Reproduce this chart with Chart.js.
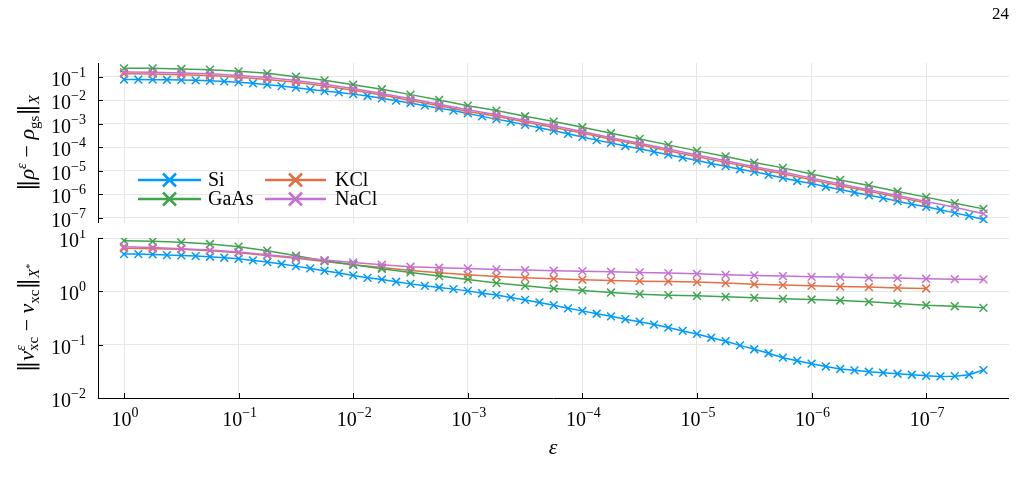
<!DOCTYPE html>
<html lang="en">
<head>
<meta charset="UTF-8">
<title>Error versus epsilon</title>
<script src="https://cdn.jsdelivr.net/npm/chart.js@4"></script>
<style>
  body { margin: 0; background: #fff; }
  #wrap { position: relative; width: 1027px; height: 486px; overflow: hidden;
          font-family: "Liberation Serif", "DejaVu Serif", serif; color: #000; }
  #wrap canvas { position: absolute; left: 0; }
  #rhoCanvas { top: 0; }
  #vxcCanvas { top: 230px; }
  .page { position: absolute; left: 992px; top: 4px; font-size: 17px; }
  .ylab { position: absolute; white-space: nowrap; font-size: 22px; line-height: 1;
          transform: translate(-50%, -50%) rotate(-90deg); }
  .ylab sup, .ylab sub { font-size: 0.68em; line-height: 0; }
  .ylab sup { vertical-align: 0.55em; }
  .ylab sub { vertical-align: -0.3em; }
  .nb { font-family: "DejaVu Serif", serif; font-size: 1.05em; }
  .ss { display: inline-block; font-size: 0.68em; line-height: 0.9; vertical-align: -0.25em; }
  .ss span { display: block; }
  .xlab { position: absolute; left: 553px; top: 447px; font-size: 22px; font-style: italic;
          transform: translate(-50%, -50%); }
</style>
</head>
<body>
<div id="wrap">
  <canvas id="rhoCanvas" width="1027" height="240"></canvas>
  <canvas id="vxcCanvas" width="1027" height="256"></canvas>
  <div class="page">24</div>
  <div class="ylab" style="left:27px; top:143px;"><span class="nb">‖</span><i>ρ</i><sup><i>ε</i></sup> − <i>ρ</i><sub>gs</sub><span class="nb">‖</span><sub><i>X</i></sub></div>
  <div class="ylab" style="left:27px; top:318px;"><span class="nb">‖</span><i>v</i><span class="ss"><span><i>ε</i></span><span>xc</span></span> − <i>v</i><sub>xc</sub><span class="nb">‖</span><sub><i>X</i><sup>*</sup></sub></div>
  <div class="xlab">ε</div>
</div>

<script>
// epsilon grids (1/8 decade for Si, 1/4 decade for the others)
const epsFine = [
  1e0, 7.499e-1, 5.623e-1, 4.217e-1, 3.162e-1, 2.371e-1, 1.778e-1, 1.334e-1,
  1e-1, 7.499e-2, 5.623e-2, 4.217e-2, 3.162e-2, 2.371e-2, 1.778e-2, 1.334e-2,
  1e-2, 7.499e-3, 5.623e-3, 4.217e-3, 3.162e-3, 2.371e-3, 1.778e-3, 1.334e-3,
  1e-3, 7.499e-4, 5.623e-4, 4.217e-4, 3.162e-4, 2.371e-4, 1.778e-4, 1.334e-4,
  1e-4, 7.499e-5, 5.623e-5, 4.217e-5, 3.162e-5, 2.371e-5, 1.778e-5, 1.334e-5,
  1e-5, 7.499e-6, 5.623e-6, 4.217e-6, 3.162e-6, 2.371e-6, 1.778e-6, 1.334e-6,
  1e-6, 7.499e-7, 5.623e-7, 4.217e-7, 3.162e-7, 2.371e-7, 1.778e-7, 1.334e-7,
  1e-7, 7.499e-8, 5.623e-8, 4.217e-8, 3.162e-8
];
const epsCoarse = [
  1e0, 5.623e-1, 3.162e-1, 1.778e-1,
  1e-1, 5.623e-2, 3.162e-2, 1.778e-2,
  1e-2, 5.623e-3, 3.162e-3, 1.778e-3,
  1e-3, 5.623e-4, 3.162e-4, 1.778e-4,
  1e-4, 5.623e-5, 3.162e-5, 1.778e-5,
  1e-5, 5.623e-6, 3.162e-6, 1.778e-6,
  1e-6, 5.623e-7, 3.162e-7, 1.778e-7,
  1e-7, 5.623e-8, 3.162e-8
];

// ||rho^eps - rho_gs||
const siRho = [
  7.8e-2, 7.8e-2, 7.7e-2, 7.6e-2, 7.4e-2, 7.2e-2, 6.9e-2, 6.5e-2,
  6.0e-2, 5.4e-2, 4.7e-2, 4.1e-2, 3.5e-2, 2.95e-2, 2.5e-2, 2.2e-2,
  1.86e-2, 1.55e-2, 1.23e-2, 9.8e-3, 7.8e-3, 6.0e-3, 4.7e-3, 3.7e-3,
  2.8e-3, 2.1e-3, 1.6e-3, 1.23e-3, 9.1e-4, 6.8e-4, 5.1e-4, 3.8e-4,
  2.8e-4, 2.04e-4, 1.55e-4, 1.15e-4, 8.7e-5, 6.5e-5, 4.9e-5, 3.7e-5,
  2.75e-5, 2.04e-5, 1.58e-5, 1.17e-5, 9.1e-6, 6.8e-6, 5.0e-6, 3.7e-6,
  2.9e-6, 2.1e-6, 1.62e-6, 1.2e-6, 9.1e-7, 6.9e-7, 5.1e-7, 3.8e-7,
  2.95e-7, 2.2e-7, 1.62e-7, 1.2e-7, 8.5e-8
];
const kclRho = [
  1.38e-1, 1.35e-1, 1.26e-1, 1.15e-1, 9.8e-2, 7.9e-2, 5.9e-2, 4.1e-2,
  2.7e-2, 1.7e-2, 1.0e-2, 5.9e-3, 3.4e-3, 2.1e-3, 1.2e-3, 7.1e-4,
  4.1e-4, 2.24e-4, 1.29e-4, 7.2e-5, 4.0e-5, 2.3e-5, 1.29e-5, 7.6e-6,
  4.2e-6, 2.34e-6, 1.35e-6, 7.6e-7, 4.3e-7
];
const gaasRho = [
  2.34e-1, 2.34e-1, 2.19e-1, 2.05e-1, 1.74e-1, 1.43e-1, 1.03e-1, 7.2e-2,
  4.7e-2, 2.99e-2, 1.77e-2, 1.05e-2, 6.0e-3, 3.7e-3, 2.12e-3, 1.26e-3,
  7.2e-4, 4.0e-4, 2.3e-4, 1.28e-4, 7.1e-5, 4.1e-5, 2.26e-5, 1.34e-5,
  7.4e-6, 4.1e-6, 2.4e-6, 1.32e-6, 7.6e-7, 4.2e-7, 2.4e-7
];
const naclRho = [
  1.62e-1, 1.58e-1, 1.48e-1, 1.38e-1, 1.17e-1, 9.5e-2, 7.1e-2, 4.9e-2,
  3.2e-2, 2.0e-2, 1.17e-2, 6.9e-3, 4.0e-3, 2.45e-3, 1.41e-3, 8.3e-4,
  4.8e-4, 2.6e-4, 1.51e-4, 8.5e-5, 4.7e-5, 2.7e-5, 1.51e-5, 8.9e-6,
  4.9e-6, 2.75e-6, 1.58e-6, 8.9e-7, 5.0e-7, 2.8e-7, 1.5e-7
];

// ||v_xc^eps - v_xc||
const siVxc = [
  5.0, 5.0, 4.93, 4.79, 4.72, 4.58, 4.45, 4.27,
  4.09, 3.80, 3.54, 3.25, 2.97, 2.69, 2.43, 2.20,
  1.99, 1.79, 1.67, 1.51, 1.38, 1.27, 1.18, 1.10,
  1.02, 0.92, 0.85, 0.77, 0.69, 0.62, 0.55, 0.48,
  0.43, 0.38, 0.34, 0.30, 0.27, 0.238, 0.209, 0.181,
  0.159, 0.135, 0.116, 0.097, 0.082, 0.069, 0.057, 0.050,
  0.044, 0.039, 0.035, 0.033, 0.031, 0.0297, 0.0285, 0.0273,
  0.0261, 0.0254, 0.0257, 0.0273, 0.0334
];
const kclVxc = [
  6.4, 6.3, 6.12, 5.78, 5.30, 4.72, 4.15, 3.64,
  3.15, 2.81, 2.46, 2.23, 2.04, 1.90, 1.79, 1.72,
  1.65, 1.60, 1.55, 1.53, 1.49, 1.43, 1.36, 1.31,
  1.27, 1.23, 1.20, 1.16, 1.13
];
const gaasVxc = [
  8.9, 8.65, 8.28, 7.71, 6.87, 5.78, 4.66, 3.75,
  3.15, 2.65, 2.26, 1.93, 1.67, 1.43, 1.27, 1.13,
  1.04, 0.95, 0.885, 0.847, 0.822, 0.788, 0.755, 0.723,
  0.702, 0.673, 0.635, 0.590, 0.549, 0.526, 0.49
];
const naclVxc = [
  6.87, 6.67, 6.30, 5.94, 5.45, 4.86, 4.33, 3.86,
  3.48, 3.15, 2.89, 2.77, 2.69, 2.57, 2.50, 2.43,
  2.39, 2.33, 2.26, 2.20, 2.13, 2.04, 1.99, 1.93,
  1.87, 1.85, 1.79, 1.77, 1.72, 1.69, 1.67
];

// tick values and their exponent labels
const epsTicks = [1e0, 1e-1, 1e-2, 1e-3, 1e-4, 1e-5, 1e-6, 1e-7];
const epsTickExp = ['0', '−1', '−2', '−3', '−4', '−5', '−6', '−7'];
const rhoTicks = [1e-1, 1e-2, 1e-3, 1e-4, 1e-5, 1e-6, 1e-7];
const rhoTickExp = ['−1', '−2', '−3', '−4', '−5', '−6', '−7'];
const vxcTicks = [1e1, 1e0, 1e-1, 1e-2];
const vxcTickExp = ['1', '0', '−1', '−2'];

const names = ['Si', 'KCl', 'GaAs', 'NaCl'];
const colors = ['#009AFA', '#E36F47', '#3EA44E', '#C371D2'];

const FONT = '"Liberation Serif", "DejaVu Serif", serif';

function pts(xs, ys) {
  return ys.map((y, i) => ({ x: xs[i], y: y }));
}

function series(data) {
  return data.map((d, i) => ({
    label: names[i],
    data: d,
    borderColor: colors[i],
    backgroundColor: colors[i],
    borderWidth: 1.5,
    pointStyle: 'crossRot',
    pointRadius: 5.5,
    pointBorderWidth: 1.5,
    pointBorderColor: colors[i],
    tension: 0,
    fill: false,
    order: 4 - i
  }));
}

// "10" with a raised exponent
function drawPow(ctx, x, y, exp, align) {
  ctx.font = '20px ' + FONT;
  const wb = ctx.measureText('10').width;
  ctx.font = '14px ' + FONT;
  const we = ctx.measureText(exp).width;
  let x0 = align === 'right' ? x - wb - we : x - (wb + we) / 2;
  ctx.textAlign = 'left';
  ctx.textBaseline = 'alphabetic';
  ctx.font = '20px ' + FONT;
  ctx.fillText('10', x0, y);
  ctx.font = '14px ' + FONT;
  ctx.fillText(exp, x0 + wb, y - 9);
}

const deco = {
  id: 'deco',
  afterDraw(chart, args, opts) {
    const ctx = chart.ctx, a = chart.chartArea;
    const xs = chart.scales.x, ys = chart.scales.y;
    ctx.save();
    ctx.strokeStyle = '#000';
    ctx.fillStyle = '#000';
    ctx.lineWidth = 1;
    ctx.beginPath();
    ctx.moveTo(a.left + 0.5, a.top);
    ctx.lineTo(a.left + 0.5, a.bottom);
    opts.yTicks.forEach(v => {
      const py = Math.round(ys.getPixelForValue(v)) + 0.5;
      ctx.moveTo(a.left, py);
      ctx.lineTo(a.left + 5, py);
    });
    if (opts.xAxis) {
      ctx.moveTo(a.left, a.bottom + 0.5);
      ctx.lineTo(a.right, a.bottom + 0.5);
      epsTicks.forEach(v => {
        const px = Math.round(xs.getPixelForValue(v)) + 0.5;
        ctx.moveTo(px, a.bottom);
        ctx.lineTo(px, a.bottom - 5);
      });
    }
    ctx.stroke();
    opts.yTicks.forEach((v, i) => {
      drawPow(ctx, a.left - 12, ys.getPixelForValue(v) + 9, opts.yExp[i], 'right');
    });
    if (opts.xAxis) {
      epsTicks.forEach((v, i) => {
        drawPow(ctx, xs.getPixelForValue(v) + 1, a.bottom + 28, epsTickExp[i], 'center');
      });
    }
    if (opts.legend) {
      const items = [
        { i: 0, x0: 138, x1: 201, y: 180, tx: 208 },
        { i: 1, x0: 265, x1: 326, y: 180, tx: 335 },
        { i: 2, x0: 138, x1: 201, y: 199, tx: 208 },
        { i: 3, x0: 265, x1: 326, y: 199, tx: 335 }
      ];
      ctx.font = '20px ' + FONT;
      ctx.textBaseline = 'middle';
      ctx.textAlign = 'left';
      items.forEach(it => {
        ctx.strokeStyle = colors[it.i];
        ctx.lineWidth = 2.5;
        ctx.beginPath();
        ctx.moveTo(it.x0, it.y);
        ctx.lineTo(it.x1, it.y);
        const cx = (it.x0 + it.x1) / 2, r = 6.5;
        ctx.moveTo(cx - r, it.y - r);
        ctx.lineTo(cx + r, it.y + r);
        ctx.moveTo(cx + r, it.y - r);
        ctx.lineTo(cx - r, it.y + r);
        ctx.stroke();
        ctx.fillStyle = '#000';
        ctx.fillText(names[it.i], it.tx, it.y + 1);
      });
    }
    ctx.restore();
  }
};

function makeChart(id, data, yMin, yMax, yTicks, yExp, pad, xAxis, legend) {
  return new Chart(document.getElementById(id), {
    type: 'line',
    data: { datasets: series(data) },
    options: {
      responsive: false,
      animation: false,
      devicePixelRatio: 1,
      events: [],
      layout: { padding: pad },
      scales: {
        x: {
          type: 'logarithmic',
          reverse: true,
          min: Math.pow(10, -7.723),
          max: Math.pow(10, 0.227),
          afterBuildTicks: s => { s.ticks = epsTicks.map(v => ({ value: v })); },
          afterFit: s => { s.height = 0; },
          ticks: { display: false },
          border: { display: false },
          grid: { color: '#e6e6e6', lineWidth: 1, drawTicks: false }
        },
        y: {
          type: 'logarithmic',
          min: yMin,
          max: yMax,
          afterBuildTicks: s => { s.ticks = yTicks.map(v => ({ value: v })); },
          afterFit: s => { s.width = 0; },
          ticks: { display: false },
          border: { display: false },
          grid: { color: '#e6e6e6', lineWidth: 1, drawTicks: false }
        }
      },
      plugins: {
        legend: { display: false },
        tooltip: { enabled: false },
        deco: { yTicks: yTicks, yExp: yExp, xAxis: xAxis, legend: legend }
      }
    },
    plugins: [deco]
  });
}

makeChart('rhoCanvas',
  [pts(epsFine, siRho), pts(epsCoarse, kclRho), pts(epsCoarse, gaasRho), pts(epsCoarse, naclRho)],
  Math.pow(10, -7.213), Math.pow(10, -0.404), rhoTicks, rhoTickExp,
  { left: 98, right: 18, top: 63, bottom: 17 }, false, true);

makeChart('vxcCanvas',
  [pts(epsFine, siVxc), pts(epsCoarse, kclVxc), pts(epsCoarse, gaasVxc), pts(epsCoarse, naclVxc)],
  1e-2, 1e1, vxcTicks, vxcTickExp,
  { left: 98, right: 18, top: 8, bottom: 88 }, true, false);
</script>
</body>
</html>
